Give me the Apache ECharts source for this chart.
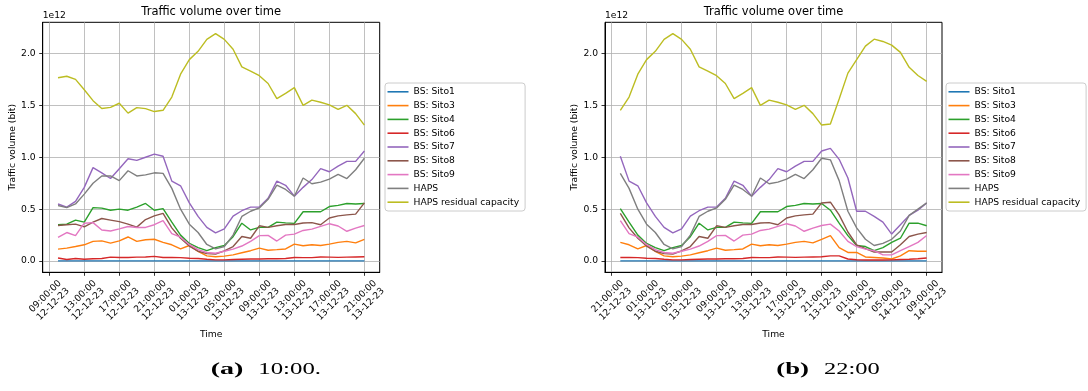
<!DOCTYPE html>
<html>
<head>
<meta charset="utf-8">
<script src="https://cdn.jsdelivr.net/npm/echarts@6/dist/echarts.min.js"></script>
<style>
html,body{margin:0;padding:0;background:#ffffff;}
#chart{width:1088px;height:391px;}
</style>
</head>
<body>
<div id="chart"></div>
<script>
// ---------------- DATA (values in units of 1e12 bit) ----------------
// Hourly samples, first sample = 12-12-23 10:00, last = 14-12-23 09:00
const firstHour = 10; // hours after 12-12-23 00:00
const seriesNames = ['BS: Sito1', 'BS: Sito3', 'BS: Sito4', 'BS: Sito6', 'BS: Sito7', 'BS: Sito8', 'BS: Sito9', 'HAPS', 'HAPS residual capacity'];

const sito1 = [0.002,0.002,0.002,0.002,0.002,0.002,0.002,0.002,0.002,0.002,0.002,0.002,
               0.002,0.002,0.002,0.002,0.002,0.002,0.002,0.002,0.002,0.002,0.002,0.002,
               0.002,0.002,0.002,0.002,0.002,0.002,0.002,0.002,0.002,0.002,0.002,0.002,
               0.002,0.002,0.002,0.002,0.002,0.002,0.002,0.002,0.002,0.002,0.002,0.002];
const sito3 = [0.115,0.125,0.14,0.157,0.19,0.195,0.173,0.195,0.232,0.19,0.205,0.21,
               0.18,0.157,0.117,0.15,0.093,0.05,0.042,0.048,0.06,0.08,0.10,0.125,
               0.104,0.11,0.117,0.163,0.148,0.157,0.15,0.163,0.18,0.19,0.175,0.21,
               0.245,0.13,0.083,0.083,0.04,0.035,0.03,0.02,0.05,0.10,0.095,0.095];
const sito4 = [0.35,0.356,0.395,0.375,0.515,0.51,0.49,0.50,0.49,0.52,0.555,0.49,
               0.505,0.375,0.25,0.17,0.13,0.10,0.13,0.15,0.235,0.365,0.30,0.325,
               0.325,0.375,0.368,0.363,0.475,0.475,0.475,0.525,0.537,0.555,0.55,0.555,
               0.49,0.365,0.245,0.15,0.14,0.10,0.13,0.18,0.22,0.365,0.365,0.34];
const sito6 = [0.03,0.015,0.025,0.018,0.022,0.025,0.038,0.035,0.035,0.038,0.04,0.045,
               0.035,0.035,0.033,0.028,0.025,0.018,0.012,0.012,0.015,0.018,0.02,0.02,
               0.022,0.023,0.025,0.035,0.033,0.033,0.04,0.038,0.036,0.038,0.04,0.042,
               0.05,0.05,0.02,0.013,0.01,0.01,0.01,0.012,0.015,0.018,0.022,0.03];
const sito7 = [0.55,0.52,0.575,0.71,0.90,0.85,0.795,0.89,0.985,0.97,1.00,1.03,
               1.01,0.77,0.725,0.56,0.43,0.325,0.272,0.31,0.433,0.485,0.52,0.52,
               0.605,0.77,0.73,0.625,0.71,0.785,0.89,0.86,0.915,0.96,0.96,1.06,
               1.085,0.98,0.80,0.48,0.48,0.43,0.375,0.26,0.35,0.44,0.49,0.56];
const sito8 = [0.343,0.35,0.356,0.33,0.375,0.41,0.395,0.38,0.356,0.327,0.40,0.435,
               0.46,0.32,0.22,0.145,0.095,0.072,0.068,0.098,0.14,0.237,0.22,0.34,
               0.325,0.34,0.352,0.352,0.367,0.37,0.35,0.415,0.435,0.445,0.452,0.56,
               0.567,0.445,0.28,0.157,0.12,0.087,0.087,0.087,0.157,0.237,0.26,0.275];
const sito9 = [0.228,0.275,0.245,0.365,0.37,0.30,0.29,0.31,0.333,0.324,0.324,0.35,
               0.39,0.265,0.23,0.16,0.11,0.083,0.075,0.095,0.115,0.145,0.19,0.245,
               0.248,0.193,0.25,0.26,0.295,0.308,0.335,0.36,0.338,0.287,0.317,0.343,
               0.356,0.29,0.19,0.14,0.115,0.10,0.06,0.06,0.10,0.14,0.18,0.247];
const haps  = [0.535,0.515,0.55,0.645,0.75,0.82,0.82,0.775,0.87,0.82,0.83,0.85,
               0.845,0.70,0.50,0.355,0.275,0.16,0.118,0.14,0.25,0.43,0.48,0.512,
               0.595,0.732,0.69,0.625,0.80,0.745,0.76,0.79,0.835,0.795,0.88,0.99,
               0.975,0.775,0.48,0.32,0.21,0.15,0.17,0.21,0.29,0.44,0.50,0.56];
const hapsResidual = [1.765,1.78,1.75,1.65,1.545,1.47,1.48,1.52,1.425,1.478,1.468,1.44,
               1.452,1.58,1.80,1.94,2.02,2.135,2.19,2.135,2.04,1.87,1.83,1.785,
               1.71,1.565,1.615,1.67,1.50,1.55,1.53,1.505,1.46,1.50,1.42,1.31,
               1.32,1.56,1.81,1.94,2.07,2.137,2.115,2.08,2.01,1.866,1.787,1.73];
const allSeries = [sito1, sito3, sito4, sito6, sito7, sito8, sito9, haps, hapsResidual];

// Panels: first sample index and sample count shown in each subplot
const panelStart = [0, 12];
const panelCount = 36;
// X tick positions (hours after 12-12-23 00:00)
const ticksA = [9, 13, 17, 21, 25, 29, 33, 37, 41, 45];
const ticksB = [21, 25, 29, 33, 37, 41, 45, 49, 53, 57];
const yTicks = [0, 0.5, 1.0, 1.5, 2.0];
const titleText = 'Traffic volume over time';
const yName = 'Traffic volume (bit)';
const xName = 'Time';
const offsetText = '1e12';
const captions = [['(a)', '10:00.'], ['(b)', '22:00']];

// ---------------- STYLE / LAYOUT ----------------
const colors = ['#1f77b4', '#ff7f0e', '#2ca02c', '#d62728', '#9467bd', '#8c564b', '#e377c2', '#7f7f7f', '#bcbd22'];
const FONT = 'DejaVu Sans';
const FS = 9.2;
const grids = [
  {left: 42.7, top: 22.3, width: 337, height: 250},
  {left: 605, top: 22.3, width: 337, height: 250}
];
const legendLeft = [385, 946];
const tickSets = [ticksA, ticksB];

function pad2(n) { return (n < 10 ? '0' : '') + n; }
function fmtTime(h) {
  const hh = ((h % 24) + 24) % 24;
  const day = 12 + Math.floor(h / 24);
  return pad2(hh) + ':00:00\n' + day + '-12-23';
}

const chart = echarts.init(document.getElementById('chart'), null, {renderer: 'canvas'});

const option = {
  animation: false,
  backgroundColor: '#ffffff',
  title: grids.map(g => ({
    text: titleText,
    left: g.left + g.width / 2,
    top: 5.5,
    textAlign: 'center',
    padding: 0,
    textStyle: {fontFamily: FONT, fontSize: 11.5, fontWeight: 'normal', color: '#000', lineHeight: 14}
  })),
  grid: grids.map(g => ({
    left: g.left, top: g.top, width: g.width, height: g.height,
    show: true, borderColor: '#000', borderWidth: 1, backgroundColor: 'transparent',
    containLabel: false, outerBoundsMode: 'none'
  })),
  legend: legendLeft.map(l => ({
    data: seriesNames,
    orient: 'vertical',
    left: l, top: 83,
    icon: 'rect',
    itemWidth: 21, itemHeight: 1.6, itemGap: 2.8,
    padding: [3.3, 6, 3.3, 2.5],
    backgroundColor: '#ffffff', borderColor: '#cccccc', borderWidth: 1, borderRadius: 3,
    selectedMode: false,
    textStyle: {fontFamily: FONT, fontSize: FS, color: '#000', lineHeight: 11}
  })),
  xAxis: grids.map((g, k) => {
    const lo = firstHour + panelStart[k];
    const hi = lo + panelCount - 1;
    const m = (hi - lo) * 0.05;
    return {
      type: 'value', gridIndex: k, min: lo - m, max: hi + m,
      name: xName, nameLocation: 'middle', nameGap: 54,
      nameTextStyle: {fontFamily: FONT, fontSize: FS, color: '#000'},
      axisLine: {show: true, onZero: false, lineStyle: {color: '#000', width: 1}},
      axisTick: {show: true, inside: false, length: 3.5, customValues: tickSets[k], lineStyle: {color: '#000', width: 0.8}},
      axisLabel: {
        customValues: tickSets[k], formatter: v => fmtTime(Math.round(v)),
        rotate: 45, align: 'center', verticalAlign: 'middle', margin: 28,
        fontFamily: FONT, fontSize: FS, color: '#000', lineHeight: 11
      },
      splitLine: {show: true, lineStyle: {color: '#b0b0b0', width: 0.8}}
    };
  }),
  yAxis: grids.map((g, k) => ({
    type: 'value', gridIndex: k, min: -0.108, max: 2.2995,
    name: yName, nameLocation: 'middle', nameGap: 25,
    nameTextStyle: {fontFamily: FONT, fontSize: FS, color: '#000'},
    axisLine: {show: true, onZero: false, lineStyle: {color: '#000', width: 1}},
    axisTick: {show: true, inside: false, length: 3.5, customValues: yTicks, lineStyle: {color: '#000', width: 0.8}},
    axisLabel: {
      customValues: yTicks, formatter: v => v.toFixed(1), margin: 7,
      fontFamily: FONT, fontSize: FS, color: '#000'
    },
    splitLine: {show: true, lineStyle: {color: '#b0b0b0', width: 0.8}}
  })),
  series: [],
  graphic: []
};

grids.forEach((g, k) => {
  allSeries.forEach((vals, s) => {
    const pts = [];
    for (let i = panelStart[k]; i < panelStart[k] + panelCount; i++) {
      pts.push([firstHour + i, vals[i]]);
    }
    option.series.push({
      type: 'line', name: seriesNames[s], xAxisIndex: k, yAxisIndex: k,
      data: pts, symbol: 'none', showSymbol: false, smooth: false,
      lineStyle: {color: colors[s], width: 1.4},
      itemStyle: {color: colors[s]},
      emphasis: {disabled: true}, silent: true, z: 2
    });
  });
  option.graphic.push({
    type: 'text', x: g.left, y: 16,
    style: {text: offsetText, fontFamily: FONT, fontSize: FS, fill: '#000', align: 'left', verticalAlign: 'middle'}
  });
});

// Captions (serif, stretched horizontally to match the reference)
const ctx = document.createElement('canvas').getContext('2d');
function textWidth(t, font) { ctx.font = font; return ctx.measureText(t).width; }
const capFontBold = 'bold 17px "Liberation Serif"';
const capFont = '17px "Liberation Serif"';
const capLayout = [
  {labelX: 210.7, labelW: 32.7, valueX: 258.3, valueW: 62.7},
  {labelX: 776.3, labelW: 32.7, valueX: 824.0, valueW: 55.7}
];
captions.forEach((c, k) => {
  const L = capLayout[k];
  option.graphic.push({
    type: 'text', x: L.labelX, y: 369.5,
    scaleX: L.labelW / textWidth(c[0], capFontBold),
    style: {text: c[0], font: capFontBold, fill: '#000', align: 'left', verticalAlign: 'middle'}
  });
  option.graphic.push({
    type: 'text', x: L.valueX, y: 369.5,
    scaleX: L.valueW / textWidth(c[1], capFont),
    style: {text: c[1], font: capFont, fill: '#000', align: 'left', verticalAlign: 'middle'}
  });
});

chart.setOption(option);
</script>
</body>
</html>
